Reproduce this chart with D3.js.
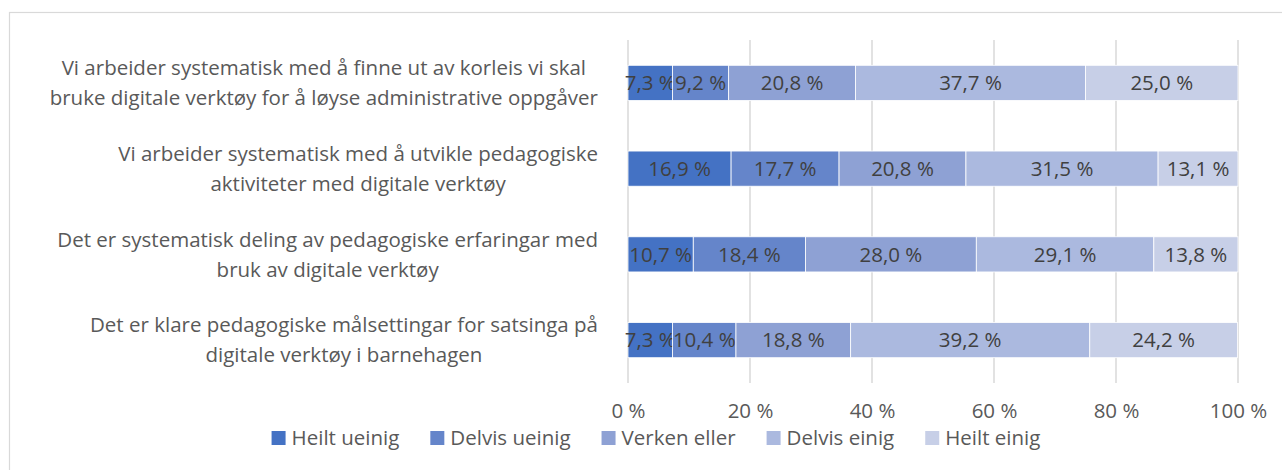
<!DOCTYPE html>
<html>
<head>
<meta charset="utf-8">
<script src="https://cdn.jsdelivr.net/npm/d3@7"></script>
<style>
  body { margin: 0; background: #fff; }
  svg text { font-family: "Open Sans", sans-serif; }
</style>
</head>
<body>
<svg id="chart" width="1282" height="470"></svg>
<script>
// categories, top to bottom
const categories = [
  ['Vi arbeider systematisk med å finne ut av korleis vi skal', 'bruke digitale verktøy for å løyse administrative oppgåver'],
  ['Vi arbeider systematisk med å utvikle pedagogiske', 'aktiviteter med digitale verktøy'],
  ['Det er systematisk deling av pedagogiske erfaringar med', 'bruk av digitale verktøy'],
  ['Det er klare pedagogiske målsettingar for satsinga på', 'digitale verktøy i barnehagen']
]
const seriesNames = ['Heilt ueinig', 'Delvis ueinig', 'Verken eller', 'Delvis einig', 'Heilt einig']
const heiltUeinig = [7.3, 16.9, 10.7, 7.3]
const delvisUeinig = [9.2, 17.7, 18.4, 10.4]
const verkenEller = [20.8, 20.8, 28.0, 18.8]
const delvisEinig = [37.7, 31.5, 29.1, 39.2]
const heiltEinig = [25.0, 13.1, 13.8, 24.2]
const ticks = [0, 20, 40, 60, 80, 100]

const colors = ['#4472c4', '#6585ca', '#8ea1d4', '#abb9df', '#c7cfe7']
const seriesVals = [heiltUeinig, delvisUeinig, verkenEller, delvisEinig, heiltEinig]
const fontSize = '20.5px'

const margin = { top: 40, left: 628, right: 44, bottom: 87 }
const W = 1282, H = 470
const width = W - margin.left - margin.right
const height = H - margin.top - margin.bottom

const rows = categories.map((c, i) => {
  const r = { key: i }
  seriesNames.forEach((s, j) => { r[s] = seriesVals[j][i] })
  return r
})
const stacked = d3.stack().keys(seriesNames)(rows)

const x = d3.scaleLinear().domain([0, 100]).range([0, width])
const y = d3.scaleBand().domain(d3.range(categories.length)).range([0, height]).paddingInner(0.59).paddingOuter(0.295)
const fmt = v => d3.format('.1f')(v).replace('.', ',') + ' %'

const svg = d3.select('#chart')

// outer chart border
svg.append('rect')
  .attr('x', 9.5).attr('y', 12.5)
  .attr('width', 1300).attr('height', 500)
  .attr('fill', 'none').attr('stroke', '#d9d9d9').attr('stroke-width', 1.2)

const g = svg.append('g').attr('transform', `translate(${margin.left},${margin.top})`)

// gridlines
g.selectAll('.grid')
  .data(ticks)
  .enter()
  .append('line')
  .attr('x1', d => x(d)).attr('x2', d => x(d))
  .attr('y1', 0).attr('y2', height)
  .attr('stroke', '#d9d9d9').attr('stroke-width', 1.5)

// bars
const layer = g.selectAll('.layer')
  .data(stacked)
  .enter()
  .append('g')
  .attr('fill', (d, i) => colors[i])

layer.selectAll('rect')
  .data(d => d)
  .enter()
  .append('rect')
  .attr('x', d => x(d[0]))
  .attr('y', (d, i) => y(i))
  .attr('width', d => x(d[1]) - x(d[0]))
  .attr('height', y.bandwidth())
  .attr('stroke', '#fff')
  .attr('stroke-width', 0.8)

// data labels
layer.selectAll('text')
  .data(d => d)
  .enter()
  .append('text')
  .attr('x', d => (x(d[0]) + x(d[1])) / 2)
  .attr('y', (d, i) => y(i) + y.bandwidth() / 2)
  .attr('dy', '0.35em')
  .attr('text-anchor', 'middle')
  .attr('fill', '#404040')
  .style('font-size', fontSize)
  .text(d => fmt(d[1] - d[0]))

// x axis labels
const xAxis = d3.axisBottom(x).tickValues(ticks).tickSize(0).tickPadding(0).tickFormat(d => d + ' %')
const ax = g.append('g')
  .attr('transform', `translate(0,${height})`)
  .call(xAxis)
ax.select('.domain').remove()
ax.selectAll('text')
  .attr('y', 28)
  .attr('dy', '0.35em')
  .attr('fill', '#595959')
  .style('font-size', fontSize)
  .style('font-family', '"Open Sans", sans-serif')

// category labels: each block centred on its widest line, right edge aligned
const labelRight = 598
categories.forEach((lines, i) => {
  const t = svg.append('text')
    .attr('fill', '#595959')
    .style('font-size', fontSize)
    .attr('text-anchor', 'middle')
  const cy = margin.top + y(i) + y.bandwidth() / 2
  lines.forEach((ln, k) => {
    t.append('tspan')
      .attr('y', cy + (k - (lines.length - 1) / 2) * 30)
      .attr('dy', '0.35em')
      .text(ln)
  })
  const w = d3.max(t.selectAll('tspan').nodes(), n => n.getComputedTextLength())
  t.selectAll('tspan').attr('x', labelRight - w / 2)
})

// legend
const legend = svg.append('g')
const items = legend.selectAll('g')
  .data(seriesNames)
  .enter()
  .append('g')
items.append('rect')
  .attr('width', 14).attr('height', 14)
  .attr('y', -7)
  .attr('fill', (d, i) => colors[i])
items.append('text')
  .attr('x', 20)
  .attr('dy', '0.35em')
  .attr('fill', '#595959')
  .style('font-size', fontSize)
  .text(d => d)
let lx = 0
items.each(function () {
  const w = this.querySelector('text').getComputedTextLength()
  d3.select(this).attr('transform', `translate(${lx},0)`)
  lx += 20 + w + 31
})
const totalW = lx - 31
legend.attr('transform', `translate(${656 - totalW / 2},438)`)
</script>
</body>
</html>
